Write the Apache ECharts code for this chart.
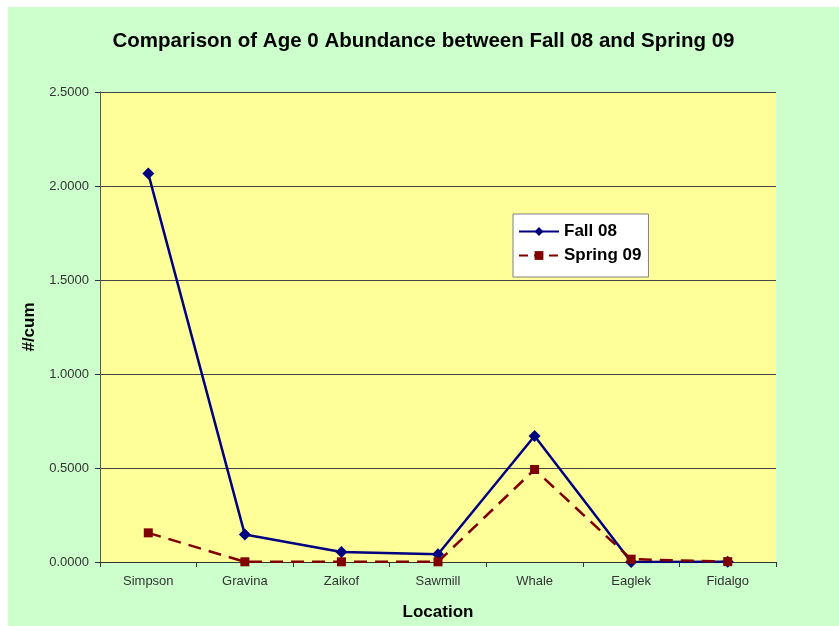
<!DOCTYPE html>
<html>
<head>
<meta charset="utf-8">
<script src="https://cdn.jsdelivr.net/npm/echarts@6/dist/echarts.min.js"></script>
<style>
  html, body { margin: 0; padding: 0; background: #ffffff; overflow: hidden; }
  #chart { position: absolute; left: 8px; top: 7px; width: 831px; height: 619px; }
</style>
</head>
<body>
<div id="chart"></div>
<script>
let locations = ['Simpson', 'Gravina', 'Zaikof', 'Sawmill', 'Whale', 'Eaglek', 'Fidalgo']
let fall08 = [2.066, 0.146, 0.053, 0.041, 0.67, 0.0, 0.001]
let spring09 = [0.155, 0.001, 0.001, 0.001, 0.492, 0.015, 0.002]

let chart = echarts.init(document.getElementById('chart'))

let option = {
    backgroundColor: '#ccffcc',
    title: {
        text: 'Comparison of Age 0 Abundance between Fall 08 and Spring 09',
        left: 'center',
        top: 19,
        textStyle: {
            fontFamily: 'Liberation Sans, Arial, sans-serif',
            fontSize: 20.5,
            fontWeight: 'bold',
            color: '#000'
        }
    },
    legend: {
        orient: 'vertical',
        left: 505,
        top: 207,
        width: 135,
        backgroundColor: '#ffffff',
        borderColor: '#808080',
        borderWidth: 1,
        padding: [9, 7, 13, 5],
        itemGap: 7,
        itemWidth: 40,
        itemHeight: 11,
        textStyle: {
            fontFamily: 'Liberation Sans, Arial, sans-serif',
            fontSize: 17,
            fontWeight: 'bold',
            color: '#000'
        },
        data: [
            { name: 'Fall 08' },
            { name: 'Spring 09', lineStyle: { type: [9, 6] } }
        ]
    },
    grid: {
        left: 92,
        right: 63,
        top: 85,
        bottom: 58
    },
    xAxis: {
        type: 'category',
        data: locations,
        name: 'Location',
        nameLocation: 'middle',
        nameGap: 42,
        nameTextStyle: {
            fontFamily: 'Liberation Sans, Arial, sans-serif',
            fontSize: 17,
            fontWeight: 'bold',
            color: '#000'
        },
        axisLine: { lineStyle: { color: '#333', width: 1 } },
        axisTick: { show: true, length: 5, lineStyle: { color: '#333' } },
        axisLabel: {
            margin: 13,
            fontFamily: 'Liberation Sans, Arial, sans-serif',
            fontSize: 13,
            color: '#333'
        }
    },
    yAxis: {
        type: 'value',
        min: 0,
        max: 2.5,
        interval: 0.5,
        name: '#/cum',
        nameLocation: 'middle',
        nameGap: 62,
        nameRotate: 90,
        nameTextStyle: {
            fontFamily: 'Liberation Sans, Arial, sans-serif',
            fontSize: 17,
            fontWeight: 'bold',
            color: '#000'
        },
        axisLine: { show: true, lineStyle: { color: '#555', width: 1 } },
        axisTick: { show: true, length: 5, lineStyle: { color: '#333' } },
        axisLabel: {
            margin: 11,
            fontFamily: 'Liberation Sans, Arial, sans-serif',
            fontSize: 13,
            color: '#333',
            formatter: v => v.toFixed(4)
        },
        splitLine: { show: true, lineStyle: { color: '#444', width: 1 } },
        splitArea: { show: true, areaStyle: { color: ['#ffff99', '#ffff99'] } }
    },
    series: [
        {
            name: 'Fall 08',
            type: 'line',
            data: fall08,
            symbol: 'diamond',
            symbolSize: 12,
            lineStyle: { color: '#000080', width: 2.5 },
            itemStyle: { color: '#000080' }
        },
        {
            name: 'Spring 09',
            type: 'line',
            data: spring09,
            symbol: 'rect',
            symbolSize: 9,
            lineStyle: { color: '#800000', width: 2.5, type: [13, 8] },
            itemStyle: { color: '#800000' }
        }
    ]
}

chart.setOption(option)
</script>
</body>
</html>
